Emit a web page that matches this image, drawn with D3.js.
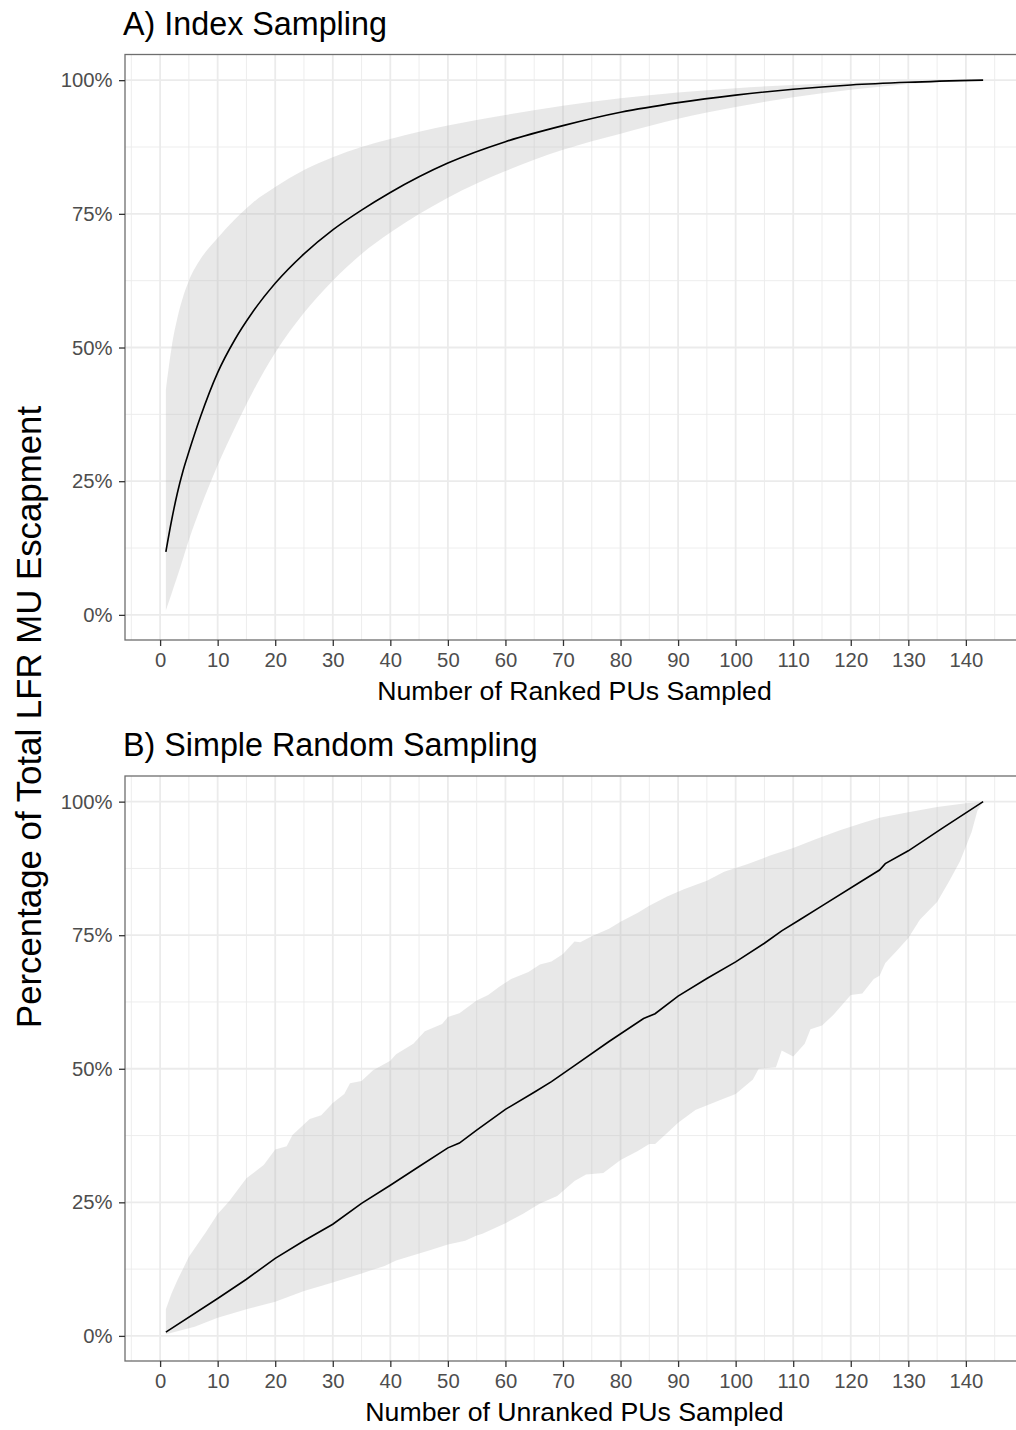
<!DOCTYPE html>
<html>
<head>
<meta charset="utf-8">
<script src="https://cdn.jsdelivr.net/npm/d3@7"></script>
<style>
  html, body { margin: 0; padding: 0; background: #fff; }
  svg { display: block; font-family: "Liberation Sans", Arial, Helvetica, sans-serif; }
</style>
</head>
<body>
<svg id="chart" width="1016" height="1430"></svg>
<script>
// ---- Panel A: index sampling (ranked PUs) ----
const indexX     = [1, 2, 3, 4, 5, 7, 10, 13, 16, 20, 25, 30, 35, 40, 50, 60, 70, 80, 90, 100, 110, 120, 130, 143];
const indexMean  = [0.118, 0.177, 0.228, 0.27, 0.305, 0.37, 0.453, 0.515, 0.565, 0.62, 0.675, 0.72, 0.757, 0.79, 0.845, 0.885, 0.915, 0.94, 0.958, 0.972, 0.983, 0.991, 0.996, 1.0];
const indexUpper = [0.42, 0.50, 0.555, 0.595, 0.625, 0.665, 0.705, 0.74, 0.77, 0.80, 0.832, 0.856, 0.875, 0.89, 0.915, 0.935, 0.952, 0.966, 0.977, 0.985, 0.991, 0.995, 0.998, 1.0];
const indexLower = [0.008, 0.04, 0.072, 0.106, 0.14, 0.2, 0.28, 0.35, 0.415, 0.49, 0.565, 0.625, 0.675, 0.715, 0.78, 0.83, 0.87, 0.9, 0.928, 0.95, 0.968, 0.982, 0.993, 1.0];

// ---- Panel B: simple random sampling (unranked PUs) ----
const srsX    = [1, 10, 15, 20, 25, 30, 35, 40, 45, 50, 52, 55, 60, 65, 68, 72, 78, 84, 86, 90, 95, 100, 105, 108, 111, 115, 122, 125, 126, 130, 136, 143];
const srsMean = [0.007, 0.07, 0.106, 0.145, 0.178, 0.209, 0.248, 0.282, 0.317, 0.352, 0.361, 0.385, 0.424, 0.456, 0.476, 0.506, 0.551, 0.594, 0.603, 0.636, 0.669, 0.7, 0.735, 0.758, 0.778, 0.805, 0.852, 0.872, 0.884, 0.908, 0.951, 1.0];

const srsUpperX = [1, 2, 3, 5, 8, 10, 12, 15, 18, 20, 22, 23, 26, 28, 30, 32, 33, 35, 37, 40, 41, 44, 46, 49, 50, 52, 55, 57, 59, 61, 64, 66, 68, 70, 72, 73, 75, 78, 80, 83, 85, 88, 91, 95, 98, 102, 106, 110, 114, 118, 122, 125, 130, 135, 140, 143];
const srsUpper  = [0.05, 0.08, 0.104, 0.148, 0.195, 0.228, 0.252, 0.295, 0.32, 0.349, 0.355, 0.376, 0.406, 0.413, 0.436, 0.453, 0.473, 0.477, 0.497, 0.515, 0.527, 0.547, 0.57, 0.584, 0.597, 0.604, 0.628, 0.638, 0.654, 0.668, 0.681, 0.695, 0.701, 0.715, 0.738, 0.737, 0.748, 0.762, 0.775, 0.792, 0.805, 0.822, 0.836, 0.852, 0.869, 0.883, 0.899, 0.913, 0.93, 0.946, 0.96, 0.97, 0.98, 0.99, 0.997, 1.0];

const srsLowerX = [1, 6, 10, 15, 20, 25, 30, 35, 39, 41, 44, 47, 50, 53, 55, 56, 60, 63, 66, 69, 72, 74, 77, 80, 83, 85, 86, 88, 90, 93, 97, 100, 103, 104, 107, 108, 110, 112, 113, 115, 117, 120, 122, 124, 125, 126, 128, 130, 132, 135, 137, 139, 141, 142, 143];
const srsLower  = [0.003, 0.017, 0.034, 0.05, 0.064, 0.084, 0.1, 0.117, 0.131, 0.141, 0.151, 0.161, 0.171, 0.178, 0.188, 0.191, 0.211, 0.228, 0.248, 0.262, 0.29, 0.302, 0.305, 0.329, 0.346, 0.359, 0.359, 0.379, 0.399, 0.423, 0.44, 0.453, 0.48, 0.5, 0.503, 0.534, 0.523, 0.547, 0.574, 0.581, 0.601, 0.638, 0.641, 0.668, 0.674, 0.698, 0.721, 0.745, 0.779, 0.812, 0.849, 0.889, 0.943, 0.983, 1.0];

// ---- Axis breaks and labels ----
const xBreaks = d3.range(0, 141, 10);
const xMinor  = d3.range(-5, 146, 10);
const yBreaks = [0, 0.25, 0.5, 0.75, 1.0];
const yMinor  = [0.125, 0.375, 0.625, 0.875];

const titleA  = "A) Index Sampling";
const titleB  = "B) Simple Random Sampling";
const xTitleA = "Number of Ranked PUs Sampled";
const xTitleB = "Number of Unranked PUs Sampled";
const yTitle  = "Percentage of Total LFR MU Escapment";

// ---- Layout ----
const svg = d3.select("#chart");
svg.append("rect").attr("width", 1016).attr("height", 1430).attr("fill", "#fff");

const panelLeft = 125, panelRight = 1024;
const panels = [
  { top: 54.5, bottom: 640, title: titleA, xTitle: xTitleA, id: "A" },
  { top: 776,  bottom: 1361, title: titleB, xTitle: xTitleB, id: "B" }
];

const x = d3.scaleLinear().domain([1 - 7.1, 143 + 7.1]).range([panelLeft, panelRight]);
const pct = d3.format(".0%");

panels.forEach(p => {
  p.y = d3.scaleLinear().domain([-0.047, 1.048]).range([p.bottom, p.top]);
  const g = svg.append("g");

  // clip region for the panel contents
  svg.append("clipPath").attr("id", "clip" + p.id)
    .append("rect").attr("x", panelLeft).attr("y", p.top)
    .attr("width", panelRight - panelLeft).attr("height", p.bottom - p.top);

  const grid = g.append("g").attr("clip-path", `url(#clip${p.id})`);
  // minor grid
  grid.selectAll(".vminor").data(xMinor).join("line")
    .attr("x1", d => x(d)).attr("x2", d => x(d))
    .attr("y1", p.top).attr("y2", p.bottom)
    .attr("stroke", "#ebebeb").attr("stroke-width", 0.9);
  grid.selectAll(".hminor").data(yMinor).join("line")
    .attr("x1", panelLeft).attr("x2", panelRight)
    .attr("y1", d => p.y(d)).attr("y2", d => p.y(d))
    .attr("stroke", "#ebebeb").attr("stroke-width", 0.9);
  // major grid
  grid.selectAll(".vmajor").data(xBreaks).join("line")
    .attr("x1", d => x(d)).attr("x2", d => x(d))
    .attr("y1", p.top).attr("y2", p.bottom)
    .attr("stroke", "#ebebeb").attr("stroke-width", 1.8);
  grid.selectAll(".hmajor").data(yBreaks).join("line")
    .attr("x1", panelLeft).attr("x2", panelRight)
    .attr("y1", d => p.y(d)).attr("y2", d => p.y(d))
    .attr("stroke", "#ebebeb").attr("stroke-width", 1.8);

  p.plot = g.append("g").attr("clip-path", `url(#clip${p.id})`);

  // panel border
  g.append("rect").attr("x", panelLeft).attr("y", p.top)
    .attr("width", panelRight - panelLeft).attr("height", p.bottom - p.top)
    .attr("fill", "none").attr("stroke", "#6e6e6e").attr("stroke-width", 1.3);

  // y axis
  const yAxis = d3.axisLeft(p.y).tickValues(yBreaks).tickFormat(pct).tickSize(6).tickPadding(6.5);
  const ya = g.append("g").attr("transform", `translate(${panelLeft},0)`).call(yAxis);
  ya.select(".domain").remove();
  ya.selectAll(".tick line").attr("stroke", "#333").attr("stroke-width", 1.3);
  ya.selectAll(".tick text").attr("fill", "#4d4d4d").attr("font-size", 20.3)
    .attr("font-family", "Liberation Sans, Arial, sans-serif");

  // x axis
  const xAxis = d3.axisBottom(x).tickValues(xBreaks).tickFormat(d3.format("d")).tickSize(6).tickPadding(7);
  const xa = g.append("g").attr("transform", `translate(0,${p.bottom})`).call(xAxis);
  xa.select(".domain").remove();
  xa.selectAll(".tick line").attr("stroke", "#333").attr("stroke-width", 1.3);
  xa.selectAll(".tick text").attr("fill", "#4d4d4d").attr("font-size", 20.3)
    .attr("font-family", "Liberation Sans, Arial, sans-serif");

  // titles
  g.append("text").attr("x", panelLeft - 2).attr("y", p.top - 20)
    .attr("font-size", 32.3).attr("fill", "#000").text(p.title);
  g.append("text").attr("x", (panelLeft + panelRight) / 2).attr("y", p.bottom + 60)
    .attr("text-anchor", "middle").attr("font-size", 26.7).attr("fill", "#000").text(p.xTitle);
});

// ---- Panel A marks ----
const pA = panels[0];
const rowsA = indexX.map((d, i) => ({ x: d, m: indexMean[i], lo: indexLower[i], hi: indexUpper[i] }));
pA.plot.append("path").datum(rowsA)
  .attr("d", d3.area().x(d => x(d.x)).y0(d => pA.y(d.lo)).y1(d => pA.y(d.hi)).curve(d3.curveMonotoneX))
  .attr("fill", "#b3b3b3").attr("fill-opacity", 0.3);
pA.plot.append("path").datum(rowsA)
  .attr("d", d3.line().x(d => x(d.x)).y(d => pA.y(d.m)).curve(d3.curveMonotoneX))
  .attr("fill", "none").attr("stroke", "#000").attr("stroke-width", 1.6);

// ---- Panel B marks ----
const pB = panels[1];
const upperB = srsUpperX.map((d, i) => [d, srsUpper[i]]);
const lowerB = srsLowerX.map((d, i) => [d, srsLower[i]]).reverse();
pB.plot.append("path").datum(upperB.concat(lowerB))
  .attr("d", d3.line().x(d => x(d[0])).y(d => pB.y(d[1])).curve(d3.curveLinearClosed))
  .attr("fill", "#b3b3b3").attr("fill-opacity", 0.3);
const rowsB = srsX.map((d, i) => [d, srsMean[i]]);
pB.plot.append("path").datum(rowsB)
  .attr("d", d3.line().x(d => x(d[0])).y(d => pB.y(d[1])))
  .attr("fill", "none").attr("stroke", "#000").attr("stroke-width", 1.6);

// ---- Shared y-axis title ----
svg.append("text")
  .attr("transform", "translate(41,717) rotate(-90)")
  .attr("text-anchor", "middle").attr("font-size", 34.8).attr("fill", "#000")
  .text(yTitle);
</script>
</body>
</html>
